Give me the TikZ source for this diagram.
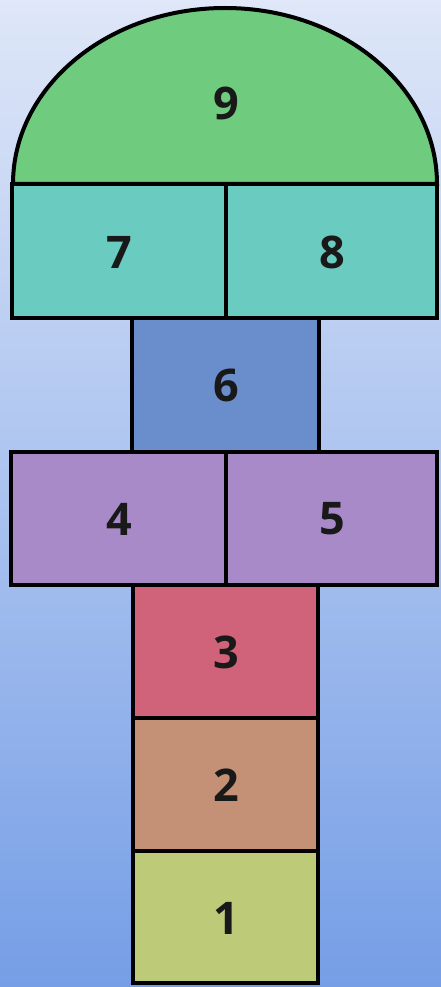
\documentclass[tikz,border=0pt]{standalone}
\usepackage{fontspec}
\setmainfont{Open Sans}
\begin{document}
\begin{tikzpicture}[x=1pt,y=-1pt,
  cell/.style={draw=black,line width=4pt,line join=miter},
  lbl/.style={font=\fontsize{45}{45}\selectfont\bfseries,text=black!90,inner sep=0pt}]
\definecolor{bgtop}{HTML}{DFE7F8}
\definecolor{bgbot}{HTML}{759EE6}
\definecolor{c9}{HTML}{6FCB7E}
\definecolor{c78}{HTML}{6ACBC1}
\definecolor{c6}{HTML}{6A8DCB}
\definecolor{c45}{HTML}{A98AC9}
\definecolor{c3}{HTML}{D06379}
\definecolor{c2}{HTML}{C49177}
\definecolor{c1}{HTML}{BDCA78}
\shade[top color=bgtop,bottom color=bgbot] (0,0) rectangle (441,987);
\useasboundingbox (0,0) rectangle (441,987);
% 9
\filldraw[cell,fill=c9] (13,184) arc[start angle=180,end angle=0,x radius=212,y radius=-176] -- cycle;
\node[lbl] (n9) at (226,103) {9};
% 7 8
\filldraw[cell,fill=c78] (12,184) rectangle (226,318);
\filldraw[cell,fill=c78] (226,184) rectangle (437,318);
\node[lbl] (n7) at (119,252) {7};
\node[lbl] (n8) at (332,252) {8};
% 6
\filldraw[cell,fill=c6] (132,318) rectangle (319,452);
\node[lbl] (n6) at (226,385) {6};
% 4 5
\filldraw[cell,fill=c45] (11,452) rectangle (226,585);
\filldraw[cell,fill=c45] (226,452) rectangle (437,585);
\node[lbl] (n4) at (119,519) {4};
\node[lbl] (n5) at (332,519) {5};
% 3 2 1
\filldraw[cell,fill=c3] (133,585) rectangle (318,718);
\node[lbl] (n3) at (226,652) {3};
\filldraw[cell,fill=c2] (133,718) rectangle (318,851);
\node[lbl] (n2) at (226,785) {2};
\filldraw[cell,fill=c1] (133,851) rectangle (318,983);
\node[lbl] (n1) at (226,918) {1};
\end{tikzpicture}
\end{document}
